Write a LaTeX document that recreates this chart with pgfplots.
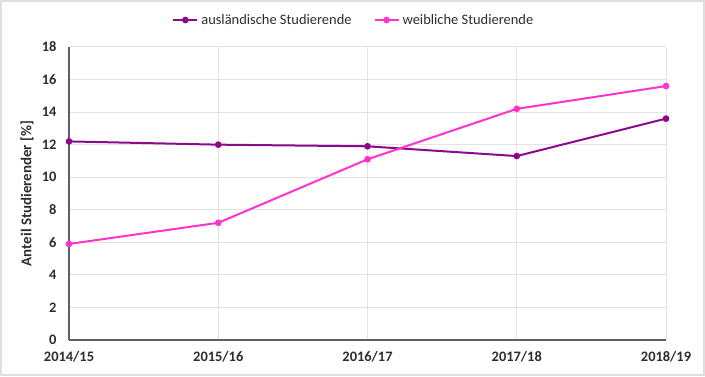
\documentclass[border=0pt]{standalone}
\usepackage{pgfplots}
\pgfplotsset{compat=1.18}
\usepackage{fontspec}
\setmainfont{Carlito}
\definecolor{purp}{RGB}{139,10,140}
\definecolor{pinkc}{RGB}{255,51,204}
\definecolor{txt}{RGB}{45,45,45}
\begin{document}
\begin{tikzpicture}[x=1bp,y=1bp]
\draw[draw=gray!25,line width=2bp,fill=white] (1,1) rectangle (704,375);
\path[use as bounding box] (0,0) rectangle (705,376);
\begin{axis}[at={(69bp,36bp)}, anchor=south west, scale only axis,
  width=597bp, height=293bp,
  xmin=0, xmax=4, ymin=0, ymax=18,
  xtick={0,1,2,3,4},
  xticklabels={2014/15,2015/16,2016/17,2017/18,2018/19},
  ytick={0,2,...,18},
  grid=major, grid style={gray!22, line width=1bp},
  axis x line*=bottom, axis y line*=left,
  axis line style={gray!75!black, line width=1.5bp, -},
  tick style={draw=none},
  /pgf/number format/assume math mode=true,
  ticklabel style={font=\bfseries\fontsize{14.5}{16}\selectfont, text=txt},
  xticklabel style={yshift=-8bp},
  yticklabel style={xshift=-9bp},
  ylabel={Anteil Studierender [\%]},
  ylabel style={font=\bfseries\fontsize{15}{17}\selectfont, text=txt, at={(axis description cs:-0.0704,0.5)}, anchor=center},
  legend columns=2,
  legend style={draw=none, fill=none, at={(0.477,1.092)}, anchor=center,
    font=\fontsize{14.5}{16}\selectfont, text=txt, inner sep=1bp,
    /tikz/every odd column/.append style={column sep=1bp},
    /tikz/every even column/.append style={column sep=20bp}},
  legend image code/.code={\draw[#1,mark repeat=2,mark phase=2] plot coordinates {(0bp,0bp) (12bp,0bp) (24bp,0bp)};},
]
\addplot[purp, line width=2bp, mark=*, mark size=2.3bp] coordinates {
(0,12.2) (1,12.0) (2,11.9) (3,11.3) (4,13.6)};
\addlegendentry{ausländische Studierende}
\addplot[pinkc, line width=2bp, mark=*, mark size=2.3bp] coordinates {
(0,5.9) (1,7.2) (2,11.1) (3,14.2) (4,15.6)};
\addlegendentry{weibliche Studierende}
\end{axis}
\end{tikzpicture}
\end{document}
